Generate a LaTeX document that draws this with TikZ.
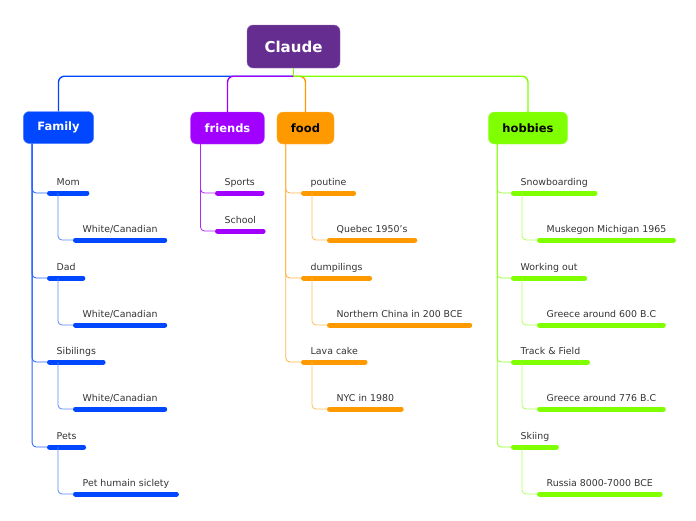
\documentclass[tikz,border=0pt]{standalone}
\usepackage{fontspec}
\setmainfont{DejaVu Sans}
\definecolor{claudepurple}{HTML}{662D91}
\definecolor{famblue}{HTML}{0047FF}
\definecolor{frviolet}{HTML}{A100FF}
\definecolor{foodorange}{HTML}{FF9900}
\definecolor{hobgreen}{HTML}{80FF00}
\definecolor{txtgray}{HTML}{333333}
\tikzset{
  topic/.style={shape=rectangle, rounded corners=6pt, fill=#1, draw=#1!70!white, font=\bfseries\fontsize{11.5}{12}\selectfont, minimum height=32pt, inner xsep=14pt},
  item/.style={anchor=south west, inner xsep=9.5pt, inner ysep=5pt, text height=7pt, text depth=2pt, font=\fontsize{9.4}{10}\selectfont, text=txtgray,
    append after command={([xshift=2.5pt]\tikzlastnode.south west) edge[draw=#1, line width=5pt, line cap=round] ([xshift=-2.5pt]\tikzlastnode.south east)}},
  trunk/.style={draw=#1, line width=1.4pt, rounded corners=6pt},
  branch/.style={draw=#1, line width=0.8pt, rounded corners=4pt},
}
\begin{document}
\begin{tikzpicture}[x=1pt, y=-1pt]
\useasboundingbox (0,0) rectangle (696,520);
\node[topic=claudepurple, text=white, font=\bfseries\fontsize{15}{16}\selectfont, minimum width=93pt, minimum height=43pt] (claude) at (293.5,46.5) {Claude};
\node[topic=famblue, text=white] (family) at (58.5,127.5) {Family};
\node[topic=frviolet, text=white] (friends) at (227.5,128) {friends};
\node[topic=foodorange, text=black] (food) at (305.5,128) {food};
\node[topic=hobgreen, text=black] (hobbies) at (528,128) {hobbies};
\coordinate (hub) at ([yshift=-8pt]claude.south);
\draw[trunk=famblue] (hub) -| (family.north);
\draw[trunk=frviolet] (hub) -| (friends.north);
\draw[trunk=foodorange] (hub) -| (food.north);
\draw[trunk=hobgreen] (hub) -| (hobbies.north);
\draw[trunk=hobgreen] (claude.south) -- (hub);
% Family
\node[item=famblue] (mom) at (47,193) {Mom};
\node[item=famblue] (momorig) at (73,240) {White/Canadian};
\node[item=famblue] (dad) at (47,278) {Dad};
\node[item=famblue] (dadorig) at (73,325) {White/Canadian};
\node[item=famblue] (siblings) at (47,362) {Sibilings};
\node[item=famblue] (siborig) at (73,409) {White/Canadian};
\node[item=famblue] (pets) at (47,447) {Pets};
\node[item=famblue] (petsorig) at (73,494) {Pet humain siclety};
\draw[branch=famblue!85] ([xshift=9pt]family.south west) |- (mom.south west);
\draw[branch=famblue!85] ([xshift=9pt]family.south west) |- (dad.south west);
\draw[branch=famblue!85] ([xshift=9pt]family.south west) |- (siblings.south west);
\draw[branch=famblue!85] ([xshift=9pt]family.south west) |- (pets.south west);
\draw[branch=famblue!65] ([xshift=11pt]mom.south west) |- (momorig.south west);
\draw[branch=famblue!65] ([xshift=11pt]dad.south west) |- (dadorig.south west);
\draw[branch=famblue!65] ([xshift=11pt]siblings.south west) |- (siborig.south west);
\draw[branch=famblue!65] ([xshift=11pt]pets.south west) |- (petsorig.south west);
% friends
\node[item=frviolet] (sports) at (215,193) {Sports};
\node[item=frviolet] (school) at (215,231) {School};
\draw[branch=frviolet!85] ([xshift=10pt]friends.south west) |- (sports.south west);
\draw[branch=frviolet!85] ([xshift=10pt]friends.south west) |- (school.south west);
% food
\node[item=foodorange] (poutine) at (301,193) {poutine};
\node[item=foodorange] (poutorig) at (327,240) {Quebec 1950's};
\node[item=foodorange] (dumplings) at (301,278) {dumpilings};
\node[item=foodorange] (dumporig) at (327,325) {Northern China in 200 BCE};
\node[item=foodorange] (lavacake) at (301,362) {Lava cake};
\node[item=foodorange] (lavaorig) at (327,409) {NYC in 1980};
\draw[branch=foodorange!75] ([xshift=9pt]food.south west) |- (poutine.south west);
\draw[branch=foodorange!75] ([xshift=9pt]food.south west) |- (dumplings.south west);
\draw[branch=foodorange!75] ([xshift=9pt]food.south west) |- (lavacake.south west);
\draw[branch=foodorange!65] ([xshift=11pt]poutine.south west) |- (poutorig.south west);
\draw[branch=foodorange!65] ([xshift=11pt]dumplings.south west) |- (dumporig.south west);
\draw[branch=foodorange!65] ([xshift=11pt]lavacake.south west) |- (lavaorig.south west);
% hobbies
\node[item=hobgreen] (snow) at (511,193) {Snowboarding};
\node[item=hobgreen] (snoworig) at (537,240) {Muskegon Michigan 1965};
\node[item=hobgreen] (workout) at (511,278) {Working out};
\node[item=hobgreen] (workorig) at (537,325) {Greece around 600 B.C};
\node[item=hobgreen] (track) at (511,362) {Track \& Field};
\node[item=hobgreen] (trackorig) at (537,409) {Greece around 776 B.C};
\node[item=hobgreen] (skiing) at (511,447) {Skiing};
\node[item=hobgreen] (skiorig) at (537,494) {Russia 8000-7000 BCE};
\draw[branch=hobgreen!85] ([xshift=9pt]hobbies.south west) |- (snow.south west);
\draw[branch=hobgreen!85] ([xshift=9pt]hobbies.south west) |- (workout.south west);
\draw[branch=hobgreen!85] ([xshift=9pt]hobbies.south west) |- (track.south west);
\draw[branch=hobgreen!85] ([xshift=9pt]hobbies.south west) |- (skiing.south west);
\draw[branch=hobgreen!65] ([xshift=11pt]snow.south west) |- (snoworig.south west);
\draw[branch=hobgreen!65] ([xshift=11pt]workout.south west) |- (workorig.south west);
\draw[branch=hobgreen!65] ([xshift=11pt]track.south west) |- (trackorig.south west);
\draw[branch=hobgreen!65] ([xshift=11pt]skiing.south west) |- (skiorig.south west);
\end{tikzpicture}
\end{document}
